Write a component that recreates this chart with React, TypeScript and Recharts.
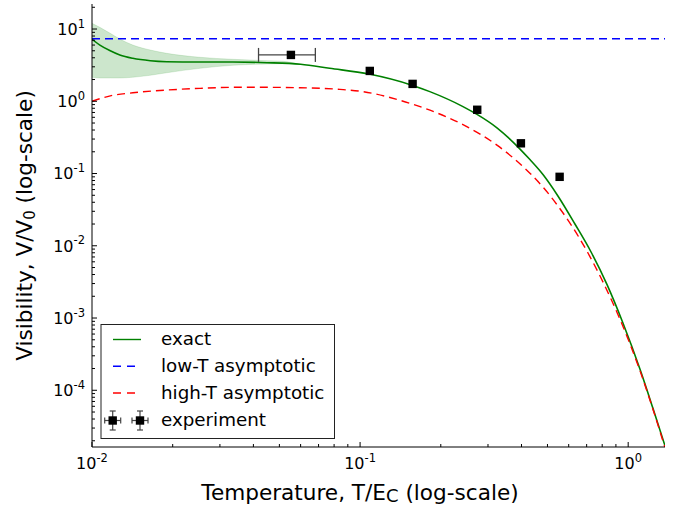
import React from 'react';
import { ComposedChart, Line, Area, Scatter, ErrorBar, XAxis, YAxis } from 'recharts';

const W = 674;
const H = 511;
const FONT = '"DejaVu Sans", Verdana, sans-serif';

// [T/Ec, V/V0]
const exactCurve = [
  [0.01, 7.2], [0.0107, 6.0], [0.0117, 5.0], [0.0127, 4.37], [0.0142, 3.93],
  [0.0165, 3.64], [0.019, 3.53], [0.025, 3.49], [0.0335, 3.49], [0.045, 3.42],
  [0.06, 3.25], [0.077, 2.86], [0.108, 2.38], [0.156, 1.67], [0.182, 1.36],
  [0.242, 0.844], [0.273, 0.658], [0.324, 0.429], [0.395, 0.218], [0.43, 0.156],
  [0.481, 0.0969], [0.547, 0.0489], [0.633, 0.02], [0.727, 0.0082],
  [0.834, 0.0029], [0.956, 0.000854], [1.107, 0.000195], [1.237, 5.63e-5], [1.372, 1.7e-5],
];

const lowTCurve = [
  [0.01, 7.34], [1.372, 7.34],
];

const highTCurve = [
  [0.01, 1.0], [0.0117, 1.19], [0.0142, 1.31], [0.019, 1.43], [0.0253, 1.51],
  [0.0336, 1.56], [0.045, 1.56], [0.0597, 1.54], [0.0841, 1.46], [0.1025, 1.36],
  [0.1373, 1.06], [0.1823, 0.752], [0.242, 0.474], [0.324, 0.247], [0.43, 0.101],
  [0.481, 0.0649], [0.547, 0.0356], [0.617, 0.0187], [0.708, 0.00795], [0.805, 0.00316],
  [0.932, 0.00096], [1.107, 0.000186], [1.237, 5.47e-5], [1.372, 1.61e-5],
];

// uncertainty band of the exact curve: [T, lower, upper]
const exactBand = [
  [0.01, 2.15, 12.0], [0.0107, 2.1, 10.55], [0.0117, 2.1, 8.72], [0.0127, 2.1, 7.27],
  [0.0142, 2.15, 6.0], [0.0165, 2.29, 5.12], [0.019, 2.48, 4.61], [0.0253, 2.86, 4.06],
  [0.0336, 3.15, 3.81], [0.045, 3.28, 3.64], [0.0517, 3.31, 3.57], [0.0597, 3.25, 3.25],
];

// experiment: [T, V, T error low, T error high]
const experimentPoints = [
  [0.0552, 4.38, 0.0134, 0.0129],
  [0.1087, 2.63],
  [0.157, 1.74],
  [0.2735, 0.763],
  [0.398, 0.262],
  [0.555, 0.09],
];

const xDomain = [0.01, 1.372];
const yDomain = [1.64e-5, 22.2];
const xDecades = [0.01, 0.1, 1];
const yDecades = [1e-5, 1e-4, 1e-3, 1e-2, 1e-1, 1, 10];
const minorSteps = [2, 3, 4, 5, 6, 7, 8, 9];

const legendItems = [
  { label: 'exact', color: '#008000', dash: undefined },
  { label: 'low-T asymptotic', color: '#0000ff', dash: '8 6' },
  { label: 'high-T asymptotic', color: '#ff0000', dash: '8 6' },
  { label: 'experiment', color: '#000', dash: 'marker' },
];

const buildTicks = (decades: number[], [lo, hi]: number[]) =>
  decades
    .flatMap((d) => [d, ...minorSteps.map((m) => +(m * d).toPrecision(6))])
    .filter((v) => v >= lo * 0.999 && v <= hi * 1.001);

const xTicks = buildTicks(xDecades, xDomain);
const yTicks = buildTicks(yDecades, yDomain);

const exponent = (v: number) => Math.round(Math.log10(v));
const isMajor = (v: number) => Math.abs(Math.log10(v) - exponent(v)) < 1e-6;

const toXY = (rows: number[][]) => rows.map(([x, y]) => ({ x, y }));
const exactData = toXY(exactCurve);
const lowTData = toXY(lowTCurve);
const highTData = toXY(highTCurve);
const bandData = exactBand.map(([x, lo, hi]) => ({ x, band: [lo, hi] }));
const experimentData = experimentPoints.map(([x, y, lo, hi]) => ({
  x,
  y,
  xErr: lo !== undefined ? [lo, hi] : undefined,
}));

const MAJOR = 5;
const MINOR = 3;

const BottomTick = (props: any) => {
  const { x, y, payload } = props;
  const v = payload.value;
  const major = isMajor(v);
  return (
    <g>
      <line x1={x} y1={y} x2={x} y2={y - (major ? MAJOR : MINOR)} stroke="#000" />
      {major && (
        <text x={x} y={y + 22.3} textAnchor="middle" fontSize={16} fontFamily={FONT} fill="#000">
          10<tspan dy={-7.3} fontSize={11.5}>{exponent(v)}</tspan>
        </text>
      )}
    </g>
  );
};

const TopTick = (props: any) => {
  const { x, y, payload } = props;
  const major = isMajor(payload.value);
  return <line x1={x} y1={y} x2={x} y2={y + (major ? MAJOR : MINOR)} stroke="#000" />;
};

const LeftTick = (props: any) => {
  const { x, y, payload } = props;
  const v = payload.value;
  const major = isMajor(v);
  return (
    <g>
      <line x1={x} y1={y} x2={x + (major ? MAJOR : MINOR)} y2={y} stroke="#000" />
      {major && (
        <text x={x - 7} y={y + 5.8} textAnchor="end" fontSize={16} fontFamily={FONT} fill="#000">
          10<tspan dy={-7.3} fontSize={11.5}>{exponent(v)}</tspan>
        </text>
      )}
    </g>
  );
};

const RightTick = (props: any) => {
  const { x, y, payload } = props;
  const major = isMajor(payload.value);
  return <line x1={x} y1={y} x2={x - (major ? MAJOR : MINOR)} y2={y} stroke="#000" />;
};

const SquareMarker = (props: any) => {
  const { cx, cy } = props;
  if (cx == null || cy == null) return null;
  return <rect x={cx - 4.2} y={cy - 4.2} width={8.4} height={8.4} fill="#000" />;
};

const LegendMarker = ({ cx, cy }: { cx: number; cy: number }) => (
  <g stroke="#444" strokeWidth={1.2}>
    <line x1={cx - 8} y1={cy} x2={cx + 8} y2={cy} />
    <line x1={cx - 8} y1={cy - 3} x2={cx - 8} y2={cy + 3} />
    <line x1={cx + 8} y1={cy - 3} x2={cx + 8} y2={cy + 3} />
    <line x1={cx} y1={cy - 9.5} x2={cx} y2={cy + 9.5} />
    <line x1={cx - 3} y1={cy - 9.5} x2={cx + 3} y2={cy - 9.5} />
    <line x1={cx - 3} y1={cy + 9.5} x2={cx + 3} y2={cy + 9.5} />
    <rect x={cx - 4.2} y={cy - 4.2} width={8.4} height={8.4} fill="#000" stroke="none" />
  </g>
);

function LegendBox() {
  const rows = [339.5, 366.2, 393, 420.5];
  return (
    <g>
      <rect x={101} y={324.5} width={233.5} height={114} fill="#fff" stroke="#222" strokeWidth={1} />
      {legendItems.map((item, i) => (
        <g key={item.label}>
          {item.dash === 'marker' ? (
            <>
              <LegendMarker cx={112.7} cy={rows[i]} />
              <LegendMarker cx={140} cy={rows[i]} />
            </>
          ) : (
            <line
              x1={113}
              y1={rows[i]}
              x2={141}
              y2={rows[i]}
              stroke={item.color}
              strokeWidth={1.4}
              strokeDasharray={item.dash}
            />
          )}
          <text x={161} y={rows[i] + 5.8} fontSize={18.3} fontFamily={FONT} fill="#000">
            {item.label}
          </text>
        </g>
      ))}
    </g>
  );
}

export default function App() {
  return (
    <div style={{ position: 'absolute', left: 0, top: 0, width: W, height: H, background: '#fff' }}>
      <ComposedChart width={W} height={H} margin={{ top: 4, right: 9, bottom: 0, left: 0 }}>
        <XAxis
          dataKey="x"
          type="number"
          scale="log"
          domain={xDomain}
          allowDataOverflow
          ticks={xTicks}
          interval={0}
          tickSize={0}
          tickMargin={0}
          tick={<BottomTick />}
          height={64}
          axisLine={{ stroke: '#000' }}
        />
        <XAxis
          xAxisId="top"
          orientation="top"
          dataKey="x"
          type="number"
          scale="log"
          domain={xDomain}
          allowDataOverflow
          ticks={xTicks}
          interval={0}
          tickSize={0}
          tickMargin={0}
          tick={<TopTick />}
          height={0}
          axisLine={{ stroke: '#000' }}
        />
        <YAxis
          type="number"
          scale="log"
          domain={yDomain}
          allowDataOverflow
          ticks={yTicks}
          interval={0}
          tickSize={0}
          tickMargin={0}
          tick={<LeftTick />}
          width={92}
          axisLine={{ stroke: '#000' }}
        />
        <YAxis
          yAxisId="right"
          orientation="right"
          type="number"
          scale="log"
          domain={yDomain}
          allowDataOverflow
          ticks={yTicks}
          interval={0}
          tickSize={0}
          tickMargin={0}
          tick={<RightTick />}
          width={0}
          axisLine={{ stroke: '#000' }}
        />
        <Area
          data={bandData}
          dataKey="band"
          type="monotone"
          fill="#008000"
          fillOpacity={0.2}
          stroke="#008000"
          strokeOpacity={0.12}
          isAnimationActive={false}
          activeDot={false}
        />
        <Line
          data={exactData}
          dataKey="y"
          type="monotone"
          stroke="#008000"
          strokeWidth={1.6}
          dot={false}
          activeDot={false}
          isAnimationActive={false}
        />
        <Line
          data={lowTData}
          dataKey="y"
          type="linear"
          stroke="#0000ff"
          strokeWidth={1.4}
          strokeDasharray="8 5"
          dot={false}
          activeDot={false}
          isAnimationActive={false}
        />
        <Line
          data={highTData}
          dataKey="y"
          type="monotone"
          stroke="#ff0000"
          strokeWidth={1.4}
          strokeDasharray="8 5"
          dot={false}
          activeDot={false}
          isAnimationActive={false}
        />
        <Scatter data={experimentData} dataKey="y" shape={<SquareMarker />} isAnimationActive={false}>
          <ErrorBar dataKey="xErr" direction="x" width={7} stroke="#444" strokeWidth={1.3} isAnimationActive={false} />
        </Scatter>
      </ComposedChart>
      <svg width={W} height={H} style={{ position: 'absolute', left: 0, top: 0, pointerEvents: 'none' }}>
        <LegendBox />
        <text x={360} y={500} textAnchor="middle" fontSize={21.6} fontFamily={FONT} fill="#000">
          Temperature, T/E<tspan dy={2} fontSize={18}>C</tspan>
          <tspan dy={-2}>{' (log-scale)'}</tspan>
        </text>
        <text
          transform="translate(32,225.5) rotate(-90)"
          textAnchor="middle"
          fontSize={21.6}
          fontFamily={FONT}
          fill="#000"
        >
          Visibility, V/V<tspan dy={3} fontSize={15}>0</tspan>
          <tspan dy={-3}>{' (log-scale)'}</tspan>
        </text>
      </svg>
    </div>
  );
}
